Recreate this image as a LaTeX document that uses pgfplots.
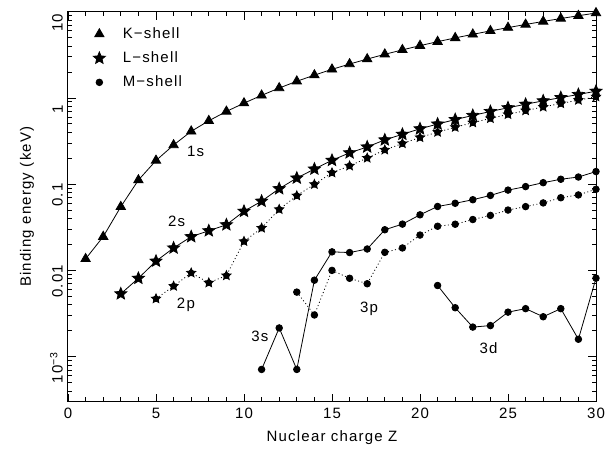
\documentclass[border=0pt]{standalone}
\usepackage{fontspec}
\setmainfont{Liberation Sans}[LetterSpace=8]
\usepackage{pgfplots}
\pgfplotsset{compat=1.18}

% filled five-pointed star
\pgfdeclareplotmark{fstar}{%
  \pgfpathmoveto{\pgfpointpolar{90}{\pgfplotmarksize}}%
  \pgfpathlineto{\pgfpointpolar{126}{0.45\pgfplotmarksize}}%
  \pgfpathlineto{\pgfpointpolar{162}{\pgfplotmarksize}}%
  \pgfpathlineto{\pgfpointpolar{198}{0.45\pgfplotmarksize}}%
  \pgfpathlineto{\pgfpointpolar{234}{\pgfplotmarksize}}%
  \pgfpathlineto{\pgfpointpolar{270}{0.45\pgfplotmarksize}}%
  \pgfpathlineto{\pgfpointpolar{306}{\pgfplotmarksize}}%
  \pgfpathlineto{\pgfpointpolar{342}{0.45\pgfplotmarksize}}%
  \pgfpathlineto{\pgfpointpolar{18}{\pgfplotmarksize}}%
  \pgfpathlineto{\pgfpointpolar{54}{0.45\pgfplotmarksize}}%
  \pgfpathclose
  \pgfusepathqfillstroke}
\pgfdeclareplotmark{fstardot}{%
  \pgfuseplotmark{fstar}%
  \pgfpathcircle{\pgfpointorigin}{0.6\pgfplotmarksize}%
  \pgfusepathqfillstroke}

\begin{document}
\fontsize{15}{18}\selectfont
\begin{tikzpicture}
\begin{axis}[
  scale only axis,
  width=528pt, height=390pt,
  ymode=log,
  xmin=0, xmax=30, ymin=3e-4, ymax=10,
  xtick={0,5,...,30},
  minor xtick={1,2,3,4,6,7,8,9,11,12,13,14,16,17,18,19,21,22,23,24,26,27,28,29},
  ytick={1e-3,1e-2,1e-1,1,10},
  yticklabels={10\textsuperscript{−3},0.01,0.1,1,10},
  minor ytick={4e-4,5e-4,6e-4,7e-4,8e-4,9e-4,
               2e-3,3e-3,4e-3,5e-3,6e-3,7e-3,8e-3,9e-3,
               2e-2,3e-2,4e-2,5e-2,6e-2,7e-2,8e-2,9e-2,
               0.2,0.3,0.4,0.5,0.6,0.7,0.8,0.9,
               2,3,4,5,6,7,8,9},
  /pgf/number format/assume math mode=true,
  tick align=inside,
  major tick length=8pt, minor tick length=4.5pt,
  every tick/.style={black, line width=0.8pt},
  axis line style={line width=1pt},
  yticklabel style={rotate=90, anchor=south, xshift=-11pt},
  xticklabel style={yshift=-1pt},
  xlabel={Nuclear charge Z},
  ylabel={Binding energy (keV)},
  xlabel style={yshift=-2pt},
  ylabel style={yshift=6pt},
  legend style={draw=none, fill=none, at={(0.045,0.965)}, anchor=north west,
                inner sep=0pt, row sep=7pt, nodes={inner sep=2pt}},
  legend cell align=left,
  legend image code/.code={\draw[#1] plot coordinates {(0pt,0pt)}; \path (-7pt,0pt) (21pt,0pt);},
  every axis plot/.append style={line width=0.8pt},
]
\addlegendimage{only marks, mark=triangle*, mark size=5.4pt}
\addlegendentry{K−shell}
\addlegendimage{only marks, mark=fstar, mark size=6.3pt}
\addlegendentry{L−shell}
\addlegendimage{only marks, mark=*, mark size=3.3pt}
\addlegendentry{M−shell}

% 1s
\addplot[forget plot, black, mark=triangle*, mark size=5.4pt] coordinates {
 (1,0.0136) (2,0.0246) (3,0.0547) (4,0.1115) (5,0.188) (6,0.2842)
 (7,0.4099) (8,0.5431) (9,0.6967) (10,0.8702) (11,1.0708) (12,1.303)
 (13,1.5596) (14,1.839) (15,2.1455) (16,2.472) (17,2.8224) (18,3.2059)
 (19,3.6084) (20,4.0385) (21,4.492) (22,4.966) (23,5.465) (24,5.989)
 (25,6.539) (26,7.112) (27,7.709) (28,8.333) (29,8.979) (30,9.659)};
% 2s
\addplot[forget plot, black, mark=fstar, mark size=6.3pt] coordinates {
 (3,0.00535) (4,0.0081) (5,0.0128) (6,0.0182) (7,0.0246) (8,0.0288)
 (9,0.0338) (10,0.0485) (11,0.0635) (12,0.0886) (13,0.1177) (14,0.1497)
 (15,0.189) (16,0.2309) (17,0.270) (18,0.3263) (19,0.3786) (20,0.4384)
 (21,0.498) (22,0.5609) (23,0.6267) (24,0.696) (25,0.7691) (26,0.8446)
 (27,0.9251) (28,1.0086) (29,1.0967) (30,1.1962)};
% 2p
\addplot[forget plot, black, dash pattern=on 1pt off 2.5pt, mark=fstardot, mark size=4.8pt,
  mark options={solid}] coordinates {
 (5,0.00469) (6,0.00657) (7,0.00935) (8,0.00718) (9,0.00871) (10,0.0217)
 (11,0.0310) (12,0.0510) (13,0.0735) (14,0.0996) (15,0.1355) (16,0.163)
 (17,0.201) (18,0.2495) (19,0.296) (20,0.348) (21,0.401) (22,0.457)
 (23,0.516) (24,0.579) (25,0.644) (26,0.713) (27,0.786) (28,0.861)
 (29,0.943) (30,1.033)};
% 3s
\addplot[forget plot, black, mark=*, mark size=3.3pt] coordinates {
 (11,0.00071) (12,0.00215) (13,0.00071) (14,0.0077) (15,0.0164) (16,0.0161)
 (17,0.0177) (18,0.0296) (19,0.0344) (20,0.0441) (21,0.0551) (22,0.0600)
 (23,0.0660) (24,0.0740) (25,0.0853) (26,0.0937) (27,0.104) (28,0.114)
 (29,0.121) (30,0.140)};
% 3p
\addplot[forget plot, black, dash pattern=on 1pt off 2.5pt, mark=*, mark size=3.3pt,
  mark options={solid}] coordinates {
 (13,0.0056) (14,0.00304) (15,0.0100) (16,0.0081) (17,0.0070) (18,0.0162)
 (19,0.0182) (20,0.0257) (21,0.0325) (22,0.0343) (23,0.0389) (24,0.0434)
 (25,0.0501) (26,0.0549) (27,0.0606) (28,0.0696) (29,0.0750) (30,0.0872)};
% 3d
\addplot[forget plot, black, mark=*, mark size=3.3pt] coordinates {
 (21,0.00668) (22,0.00369) (23,0.00220) (24,0.00229) (25,0.00328)
 (26,0.00360) (27,0.00290) (28,0.00360) (29,0.00159) (30,0.00813)};

\node at (axis cs:7.25,0.238) {1s};
\node at (axis cs:6.17,0.0371) {2s};
\node at (axis cs:6.70,0.00403) {2p};
\node at (axis cs:10.9,0.00173) {3s};
\node at (axis cs:17.1,0.00362) {3p};
\node at (axis cs:23.9,0.00124) {3d};
\end{axis}
\pgfresetboundingbox
\path (-68pt,-47.3pt) rectangle (539pt,401.7pt);
\end{tikzpicture}
\end{document}
